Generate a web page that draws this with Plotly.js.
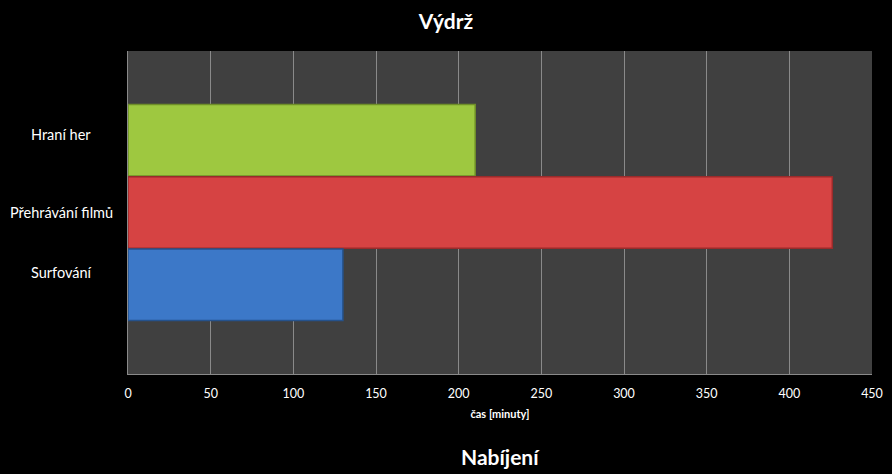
<!DOCTYPE html>
<html>
<head>
<meta charset="utf-8">
<script src="https://cdn.plot.ly/plotly-3.0.1.min.js"></script>
<style>html,body{margin:0;padding:0;background:#000;}#chart{width:892px;height:474px;}</style>
</head>
<body>
<div id="chart"></div>
<script>
const categories = ["Hraní her", "Přehrávání filmů", "Surfování"];
const values = [210, 426, 130];
const barColors = ["#9ec840", "#d64343", "#3c78c8"];
const lineColors = ["#6f8f28", "#9a2b2b", "#25528c"];
const labelPos = [-0.08, 1, 1.83];
const xTicks = [0, 50, 100, 150, 200, 250, 300, 350, 400, 450];

const FONT = "Lato, 'Open Sans', sans-serif";

const trace = {
  type: "bar",
  orientation: "h",
  x: values,
  y: [0, 1, 2],
  width: 0.99,
  marker: { color: barColors, line: { color: lineColors, width: 1.5 } },
  hoverinfo: "skip"
};

const catAnnotations = categories.map((c, i) => ({
  text: c, xref: "paper", yref: "y", x: -0.0895, y: labelPos[i],
  xanchor: "center", yanchor: "middle", showarrow: false,
  font: { family: FONT, size: 14.5, color: "#ffffff" }
}));

const layout = {
  width: 892, height: 474,
  paper_bgcolor: "#000000",
  plot_bgcolor: "#404040",
  margin: { l: 128, r: 20, t: 51, b: 100 },
  showlegend: false,
  title: { text: "<b>Výdrž</b>", x: 0.5, xanchor: "center", y: 0.955, yanchor: "middle",
           font: { family: FONT, size: 21, color: "#ffffff" } },
  xaxis: {
    range: [0, 450], tickvals: xTicks, ticktext: xTicks.map(String),
    showgrid: true, gridcolor: "#8a8a8a", gridwidth: 1,
    zeroline: false, showline: true, linecolor: "#8a8a8a", mirror: false,
    ticks: "", ticklen: 0, ticklabelstandoff: 8,
    tickfont: { family: FONT, size: 12.5, color: "#ffffff" },
    title: { text: "<b>čas [minuty]</b>", standoff: 10, font: { family: FONT, size: 11, color: "#ffffff" } }
  },
  yaxis: {
    range: [3.236, -1.236],
    tickvals: labelPos, showticklabels: false,
    showgrid: false, zeroline: false, showline: true, linecolor: "#8a8a8a",
    ticks: "", ticklen: 0
  },
  annotations: catAnnotations.concat([{
    text: "<b>Nabíjení</b>", xref: "paper", yref: "paper", x: 0.5, y: -0.255,
    xanchor: "center", yanchor: "middle", showarrow: false,
    font: { family: FONT, size: 21, color: "#ffffff" }
  }])
};

Plotly.newPlot("chart", [trace], layout, { displayModeBar: false, staticPlot: true });
</script>
</body>
</html>
